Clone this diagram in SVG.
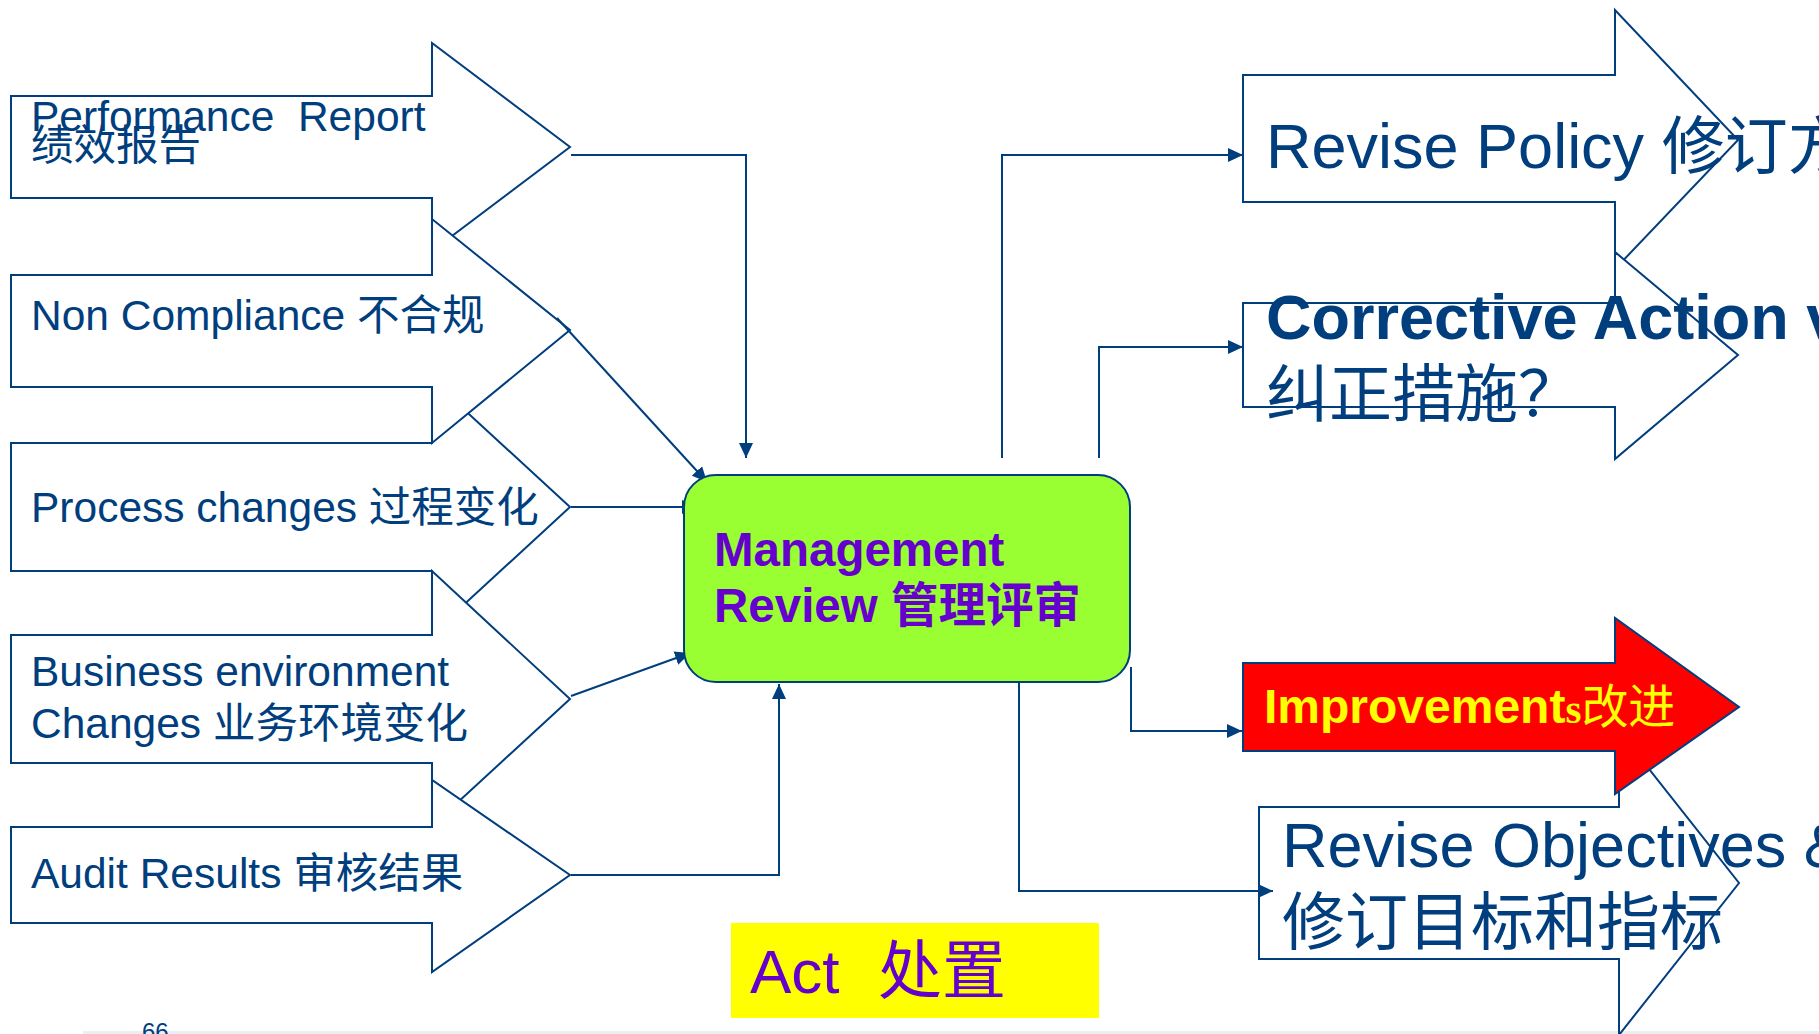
<svg xmlns="http://www.w3.org/2000/svg" width="1819" height="1034" viewBox="0 0 1819 1034">
<style>
.arr{fill:#ffffff;stroke:#003E7E;stroke-width:2;stroke-linejoin:miter}
.red{fill:#FF0000;stroke:#003E7E;stroke-width:2}
.con{fill:none;stroke:#003E7E;stroke-width:2}
.lbl{font-family:"Liberation Sans","Noto Sans CJK SC",sans-serif;font-size:42.5px;fill:#003E7E}
.cjk{font-family:"Noto Sans CJK SC",sans-serif}
.big{font-family:"Liberation Sans","Noto Sans CJK SC",sans-serif;font-size:63px;fill:#003E7E}
.mr{font-family:"Liberation Sans","Noto Sans CJK SC",sans-serif;font-size:47.5px;font-weight:bold;fill:#6600CC}
</style>
<defs>
<marker id="ah" markerUnits="userSpaceOnUse" markerWidth="15" markerHeight="14" refX="15" refY="7" orient="auto">
<path d="M0,0 L15,7 L0,14 z" fill="#003E7E"/>
</marker>
</defs>
<rect x="0" y="0" width="1819" height="1034" fill="#ffffff"/>
<rect x="83" y="1031" width="1736" height="3" fill="#eceef1"/>

<g id="input-performance">
<polygon class="arr" points="11,96 432,96 432,43 570,147 432,251 432,198 11,198"/>
</g>
<g id="input-process">
<polygon class="arr" points="11,443 432,443 432,380 570,507 432,634 432,571 11,571"/>
</g>
<g id="input-noncompliance">
<polygon class="arr" points="11,275 432,275 432,219 570,330 432,443 432,387 11,387"/>
</g>
<g id="input-business">
<polygon class="arr" points="11,635 432,635 432,571 570,699 432,826 432,763 11,763"/>
</g>
<g id="input-audit">
<polygon class="arr" points="11,827 432,827 432,780 570,875 432,972 432,923 11,923"/>
</g>

<g id="out-policy">
<polygon class="arr" points="1243,75 1615,75 1615,10 1738,140 1615,269 1615,202 1243,202"/>
</g>
<g id="out-corrective">
<polygon class="arr" points="1243,303 1615,303 1615,252 1738,355 1615,459 1615,407 1243,407"/>
</g>
<g id="out-objectives">
<polygon class="arr" points="1259,807 1619,807 1619,731 1739,883 1619,1035 1619,959 1259,959"/>
</g>
<g id="out-improvements">
<polygon class="red" points="1243,663 1615,663 1615,618 1739,707 1615,794 1615,751 1243,751"/>
</g>

<g id="texts-left">
<text class="lbl" x="31" y="131" xml:space="preserve">Performance  Report</text>
<text class="lbl cjk" x="31" y="160">绩效报告</text>
<text class="lbl" x="31" y="330">Non Compliance <tspan class="cjk">不合规</tspan></text>
<text class="lbl" x="31" y="522">Process changes <tspan class="cjk">过程变化</tspan></text>
<text class="lbl" x="31" y="686">Business environment</text>
<text class="lbl" x="31" y="738">Changes <tspan class="cjk">业务环境变化</tspan></text>
<text class="lbl" x="31" y="888">Audit Results <tspan class="cjk">审核结果</tspan></text>
</g>

<g id="texts-right">
<text class="big" x="1266" y="168">Revise Policy <tspan class="cjk">修订方</tspan></text>
<text class="big" x="1266" y="339" font-size="62" font-weight="bold">Corrective Action v</text>
<text class="big cjk" x="1266" y="416" font-size="62">纠正措施？</text>
<text x="1264" y="723" font-family="Liberation Sans, sans-serif" font-size="48" font-weight="bold" fill="#FFFF00">Improvement<tspan font-family="Liberation Serif, serif" font-size="41">s</tspan><tspan font-family="Noto Sans CJK SC, sans-serif" font-weight="normal" font-size="47">改进</tspan></text>
<text class="big" x="1282" y="867">Revise Objectives &amp;</text>
<text class="big cjk" x="1282" y="944">修订目标和指标</text>
</g>

<g id="connectors">
<polyline class="con" points="571,155 746,155 746,458" marker-end="url(#ah)"/>
<line class="con" x1="557" y1="318" x2="707" y2="482" marker-end="url(#ah)"/>
<line class="con" x1="571" y1="507" x2="697" y2="507" marker-end="url(#ah)"/>
<line class="con" x1="571" y1="696" x2="690" y2="653" marker-end="url(#ah)"/>
<polyline class="con" points="571,875 779,875 779,684" marker-end="url(#ah)"/>
<polyline class="con" points="1002,458 1002,155 1243,155" marker-end="url(#ah)"/>
<polyline class="con" points="1099,458 1099,347 1243,347" marker-end="url(#ah)"/>
<polyline class="con" points="1131,667 1131,731 1242,731" marker-end="url(#ah)"/>
<polyline class="con" points="1019,682 1019,891 1273,891" marker-end="url(#ah)"/>
</g>

<g id="management-review">
<rect x="684" y="475" width="446" height="207" rx="32" ry="32" fill="#99FF33" stroke="#003E7E" stroke-width="2"/>
<text class="mr" x="714" y="566">Management</text>
<text class="mr" x="714" y="622">Review <tspan class="cjk">管理评审</tspan></text>
</g>

<g id="act">
<rect x="731" y="923" width="368" height="95" fill="#FFFF00"/>
<text x="750" y="993" font-family="Liberation Sans, Noto Sans CJK SC, sans-serif" font-size="62" fill="#6600CC" xml:space="preserve">Act  <tspan font-family="Noto Sans CJK SC, sans-serif" font-size="64" dx="4">处置</tspan></text>
</g>

<text x="142" y="1040" font-family="Liberation Sans, sans-serif" font-size="24" fill="#003E7E">66</text>
</svg>
